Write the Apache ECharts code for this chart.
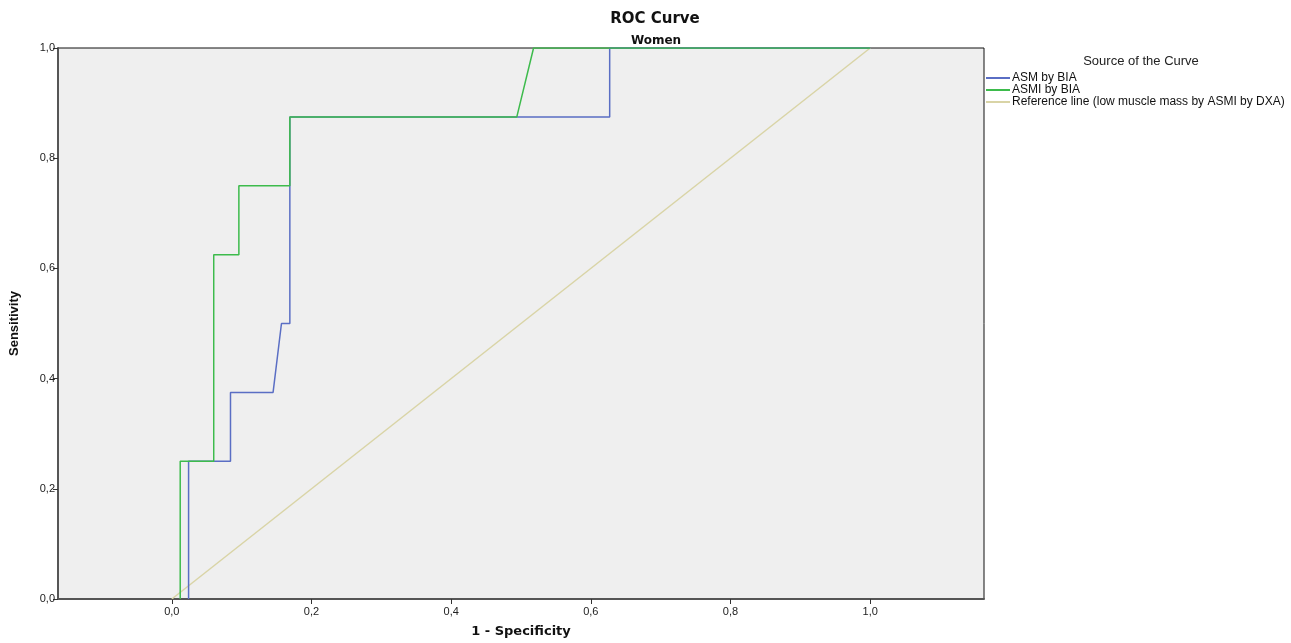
<!DOCTYPE html>
<html>
<head>
<meta charset="utf-8">
<script src="https://cdn.jsdelivr.net/npm/echarts@6/dist/echarts.min.js"></script>
<style>
  html, body { margin: 0; padding: 0; background: #fff; }
  #chart { width: 1291px; height: 643px; }
</style>
</head>
<body>
<div id="chart"></div>
<script>
// values (1 - specificity, sensitivity)
var asmX = [0.024, 0.024, 0.084, 0.084, 0.145, 0.157, 0.169, 0.169, 0.627, 0.627, 1.0];
var asmY = [0, 0.25, 0.25, 0.375, 0.375, 0.5, 0.5, 0.875, 0.875, 1.0, 1.0];
var asmiX = [0.012, 0.012, 0.060, 0.060, 0.096, 0.096, 0.169, 0.169, 0.494, 0.518, 1.0];
var asmiY = [0, 0.25, 0.25, 0.625, 0.625, 0.75, 0.75, 0.875, 0.875, 1.0, 1.0];
var refX = [0, 1];
var refY = [0, 1];
var tickValues = [0, 0.2, 0.4, 0.6, 0.8, 1.0];
var seriesNames = ['ASM by BIA', 'ASMI by BIA', 'Reference line (low muscle mass by ASMI by DXA)'];

function pairs(xs, ys) {
    return xs.map(function (x, i) { return [x, ys[i]]; });
}
function comma(v) {
    return v.toFixed(1).replace('.', ',');
}

var chart = echarts.init(document.getElementById('chart'));
var font = 'Liberation Sans, Arial, sans-serif';
var wide = 'DejaVu Sans, sans-serif';

var option = {
    backgroundColor: '#fff',
    animation: false,
    textStyle: { fontFamily: font },
    title: [
        { text: 'ROC Curve', left: 650, top: 7, textAlign: 'center',
          textStyle: { fontSize: 15, fontWeight: 'bold', color: '#111', fontFamily: wide } },
        { text: 'Women', left: 651, top: 30, textAlign: 'center',
          textStyle: { fontSize: 12, fontWeight: 'bold', color: '#111', fontFamily: wide } },
        { text: 'Source of the Curve', left: 1136, top: 50, textAlign: 'center',
          textStyle: { fontSize: 13, fontWeight: 'normal', color: '#222', fontFamily: font } }
    ],
    legend: {
        orient: 'vertical',
        left: 986,
        top: 72,
        padding: 0,
        itemWidth: 24,
        itemHeight: 2,
        itemGap: 0,
        icon: 'rect',
        data: seriesNames,
        textStyle: { fontSize: 12, lineHeight: 12, color: '#111', padding: [0, 0, 0, -3] }
    },
    grid: {
        left: 58, right: 307, top: 48, bottom: 43,
        show: true,
        backgroundColor: '#efefef',
        borderColor: '#111',
        borderWidth: 1
    },
    xAxis: {
        type: 'value',
        min: -0.163,
        max: 1.163,
        name: '1 - Specificity',
        nameLocation: 'middle',
        nameGap: 26,
        nameTextStyle: { fontSize: 13, fontWeight: 'bold', color: '#111', fontFamily: wide },
        splitLine: { show: false },
        axisLine: { onZero: false, lineStyle: { color: '#555', width: 2 } },
        axisTick: { show: true, length: 5, lineStyle: { color: '#333' }, customValues: tickValues },
        axisLabel: { fontSize: 11, color: '#222', margin: 7, customValues: tickValues, formatter: comma }
    },
    yAxis: {
        type: 'value',
        min: 0,
        max: 1,
        interval: 0.2,
        name: 'Sensitivity',
        nameLocation: 'middle',
        nameGap: 37,
        nameTextStyle: { fontSize: 13, fontWeight: 'bold', color: '#111' },
        splitLine: { show: false },
        axisLine: { show: true, onZero: false, lineStyle: { color: '#555', width: 2 } },
        axisTick: { show: true, length: 5, lineStyle: { color: '#333' } },
        axisLabel: { fontSize: 11, color: '#222', margin: 3, formatter: comma }
    },
    series: [
        {
            name: seriesNames[2], type: 'line', data: pairs(refX, refY),
            showSymbol: false, z: 1,
            lineStyle: { color: '#d9d4a6', width: 1.5 }, itemStyle: { color: '#d9d4a6' }
        },
        {
            name: seriesNames[0], type: 'line', data: pairs(asmX, asmY),
            showSymbol: false, z: 2,
            lineStyle: { color: '#5a6ec4', width: 1.5 }, itemStyle: { color: '#5a6ec4' }
        },
        {
            name: seriesNames[1], type: 'line', data: pairs(asmiX, asmiY),
            showSymbol: false, z: 3,
            lineStyle: { color: '#3dbb4c', width: 1.5 }, itemStyle: { color: '#3dbb4c' }
        }
    ]
};
chart.setOption(option);
</script>
</body>
</html>
